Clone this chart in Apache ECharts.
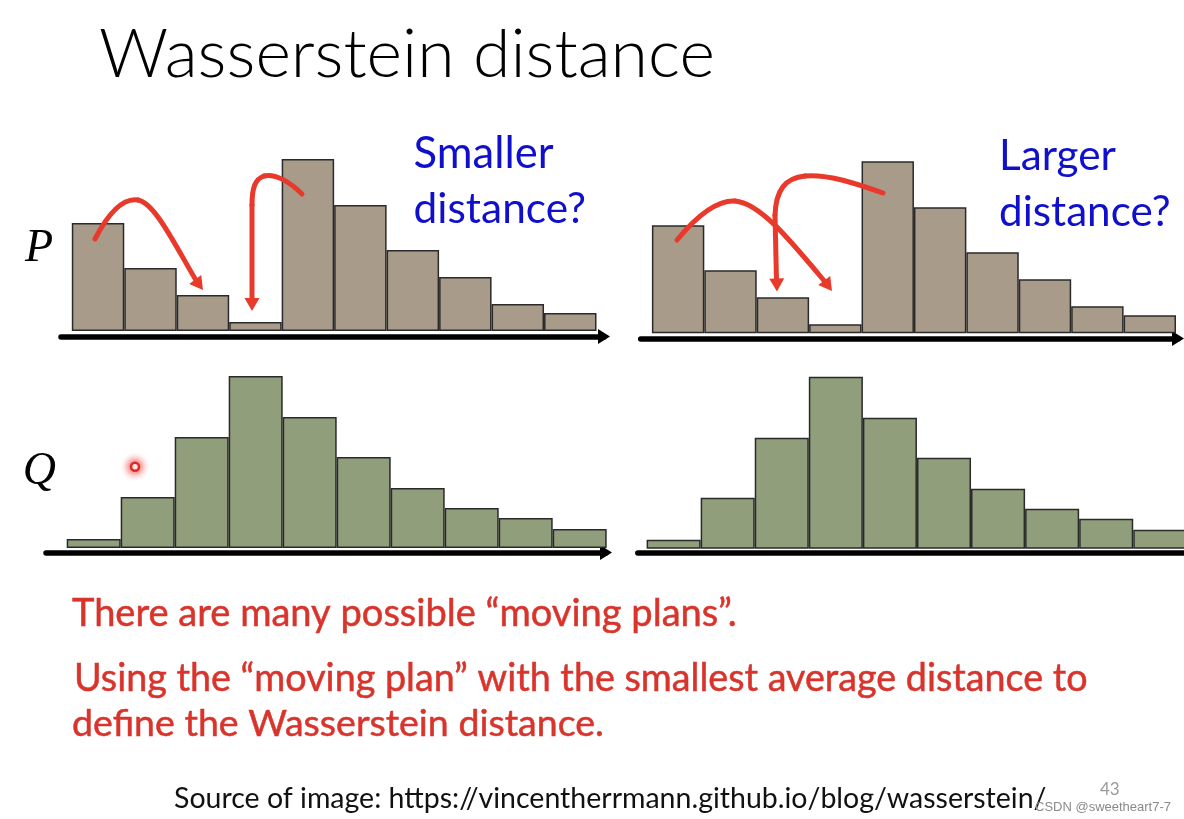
<!DOCTYPE html>
<html><head><meta charset="utf-8">
<script src="https://cdn.jsdelivr.net/npm/echarts@6/dist/echarts.min.js"></script>
<style>html,body{margin:0;padding:0;background:#fff;}#c{width:1184px;height:819px;}</style>
</head><body><div id="c"></div>
<script>
// ---------- data ----------
const bins = ['1','2','3','4','5','6','7','8','9','10'];
const pValues = [108, 63, 36, 9, 172, 126, 81, 54, 27, 18];
const qValues = [9, 51, 111, 172, 131, 91, 60, 40, 30, 19];
const titleText = 'Wasserstein distance';
const leftNote = ['Smaller', 'distance?'];
const rightNote = ['Larger', 'distance?'];
const captionLines = [
  'There are many possible \u201cmoving plans\u201d.',
  'Using the \u201cmoving plan\u201d with the smallest average distance to',
  'define the Wasserstein distance.'
];
const sourceText = 'Source of image: https://vincentherrmann.github.io/blog/wasserstein/';
const pageNumber = '43';
const watermark = 'CSDN @sweetheart7-7';

// ---------- layout ----------
const SANS = 'Lato, "Open Sans", sans-serif';
const SERIF = '"Liberation Serif", "DejaVu Serif", serif';
const P_COLOR = '#a89b89', Q_COLOR = '#909e7c', EDGE = '#2a2a2a';
const RED = '#e8392b', BLUE = '#1010cc', CAP_RED = '#d9342c';
const Y_MAX = 180;

const panels = [
  {left: 71.8, width: 524.7, base: 331, values: pValues, color: P_COLOR},
  {left: 651.9, width: 524.1, base: 333.3, values: pValues, color: P_COLOR},
  {left: 66.7, width: 540, base: 548, values: qValues, color: Q_COLOR},
  {left: 646.6, width: 540.7, base: 548.7, values: qValues, color: Q_COLOR}
];
const axes = [
  {x0: 61, x1: 604, y: 336.5, arrow: true},
  {x0: 640.7, x1: 1178, y: 338.5, arrow: true},
  {x0: 46, x1: 606, y: 552.5, arrow: true},
  {x0: 637.8, x1: 1195, y: 553, arrow: false}
];

const grids = [], xAxes = [], yAxes = [], series = [];
panels.forEach((p, i) => {
  grids.push({left: p.left, top: p.base - Y_MAX, width: p.width, height: Y_MAX, outerBoundsMode: 'none', containLabel: false});
  xAxes.push({type: 'category', data: bins, gridIndex: i, show: false, boundaryGap: true});
  yAxes.push({type: 'value', min: 0, max: Y_MAX, gridIndex: i, show: false});
  series.push({type: 'bar', xAxisIndex: i, yAxisIndex: i, data: p.values, barCategoryGap: '0%', silent: true,
    itemStyle: {color: p.color, borderColor: EDGE, borderWidth: 1.5}});
});
axes.forEach((a, j) => {
  const gi = panels.length + j;
  grids.push({left: a.x0, top: a.y - 2, width: a.x1 - a.x0, height: 2, outerBoundsMode: 'none', containLabel: false});
  xAxes.push({type: 'value', min: 0, max: 1, gridIndex: gi, position: 'bottom',
    axisLine: {show: true, onZero: false, lineStyle: {color: '#000', width: 5.5},
      symbol: a.arrow ? ['none', 'triangle'] : ['none', 'none'], symbolSize: [15, 12]},
    axisTick: {show: false}, axisLabel: {show: false}, splitLine: {show: false}});
  yAxes.push({type: 'value', min: 0, max: 1, gridIndex: gi, show: false});
});

// ---------- text helpers ----------
const mctx = document.createElement('canvas').getContext('2d');
function fit(text, family, weight, style, target) {
  mctx.font = `${style} ${weight} 100px ${family}`;
  return 100 * target / mctx.measureText(text).width;
}
function txt(text, x, baseline, opt) {
  const family = opt.family || SANS, weight = opt.weight || 'normal', fstyle = opt.style || 'normal';
  const size = opt.size || fit(text, family, weight, fstyle, opt.width);
  return {type: 'text', x: x, y: baseline - (opt.k || 0.33) * size, z: 100, silent: true,
    style: {text: text, fontFamily: family, fontSize: size, fontWeight: weight, fontStyle: fstyle,
      fill: opt.color || '#000', align: opt.align || 'left', verticalAlign: 'middle',
      stroke: opt.stroke || null, lineWidth: opt.stroke ? 0.5 : 0}};
}
function bez(p0, c1, c2, p3) {
  return {type: 'bezierCurve', z: 110, silent: true,
    shape: {x1: p0[0], y1: p0[1], cpx1: c1[0], cpy1: c1[1], cpx2: c2[0], cpy2: c2[1], x2: p3[0], y2: p3[1]},
    style: {stroke: RED, lineWidth: 5, fill: null, lineCap: 'round'}};
}
function seg(a, b) {
  return {type: 'line', z: 110, silent: true, shape: {x1: a[0], y1: a[1], x2: b[0], y2: b[1]},
    style: {stroke: RED, lineWidth: 5, lineCap: 'butt'}};
}
function head(tip, dir, len, hw) {
  const n = Math.hypot(dir[0], dir[1]); const d = [dir[0]/n, dir[1]/n]; const pp = [-d[1], d[0]];
  const b = [tip[0] - d[0]*len, tip[1] - d[1]*len];
  return {type: 'polygon', z: 111, silent: true,
    shape: {points: [tip, [b[0] + pp[0]*hw, b[1] + pp[1]*hw], [b[0] - pp[0]*hw, b[1] - pp[1]*hw]]},
    style: {fill: RED}};
}

const graphics = [
  txt(titleText, 99, 77.3, {width: 616, weight: 300}),
  txt(leftNote[0], 413.6, 168.3, {width: 140, color: BLUE}),
  txt(leftNote[1], 413.6, 223.3, {width: 172.4, color: BLUE}),
  txt(rightNote[0], 999, 170, {width: 117, color: BLUE}),
  txt(rightNote[1], 999, 226, {width: 171.6, color: BLUE}),
  txt('P', 25, 262.7, {size: 46, family: SERIF, style: 'italic', k: 0.3}),
  txt('Q', 22.7, 486, {size: 46, family: SERIF, style: 'italic', k: 0.3}),
  txt(captionLines[0], 72, 626, {width: 665, color: CAP_RED, stroke: CAP_RED}),
  txt(captionLines[1], 74, 691, {width: 1014, color: CAP_RED, stroke: CAP_RED}),
  txt(captionLines[2], 72, 736, {width: 532, color: CAP_RED, stroke: CAP_RED}),
  txt(sourceText, 174, 808, {width: 873, color: '#111'}),
  txt(pageNumber, 1100, 795, {size: 17, color: '#9a9a9a'}),
  txt(watermark, 1035, 812, {size: 13, color: '#8a8a8a', family: '"Liberation Sans", sans-serif'}),
  // left P arrows
  bez([95,239], [110,210], [125,198], [138,200]),
  bez([138,200], [155,203], [175,245], [197,282]),
  head([203,290], [0.6,0.8], 13, 7.5),
  bez([302,194], [290,182], [275,173], [264,176]),
  bez([264,176], [255,179], [252,188], [252,205]),
  seg([252,204], [252,300]),
  head([252,311], [0,1], 13, 7.5),
  // right P arrows
  bez([677,240], [695,218], [715,200], [735,201]),
  bez([735,201], [760,203], [790,240], [826,283]),
  head([832,291], [0.6,0.8], 13, 7.5),
  bez([883,193], [860,185], [830,174], [805,176]),
  bez([805,176], [785,178], [776,190], [775,215]),
  seg([775,214], [776.5,281]),
  head([777,291.5], [0.02,1], 13, 7.5),
  // pointer dot
  {type: 'circle', z: 120, silent: true, shape: {cx: 135, cy: 466.7, r: 16},
    style: {fill: {type: 'radial', x: 0.5, y: 0.5, r: 0.5,
      colorStops: [{offset: 0, color: 'rgba(235,40,40,0.85)'}, {offset: 0.45, color: 'rgba(240,90,90,0.45)'}, {offset: 1, color: 'rgba(255,255,255,0)'}]}}},
  {type: 'circle', z: 121, silent: true, shape: {cx: 135, cy: 466.7, r: 4},
    style: {fill: '#fbe3e3', stroke: '#e02a2a', lineWidth: 2.5}}
];

const chart = echarts.init(document.getElementById('c'), null, {renderer: 'canvas'});
chart.setOption({
  animation: false,
  backgroundColor: '#fff',
  grid: grids, xAxis: xAxes, yAxis: yAxes, series: series,
  graphic: {elements: graphics}
});
</script>
</body></html>
